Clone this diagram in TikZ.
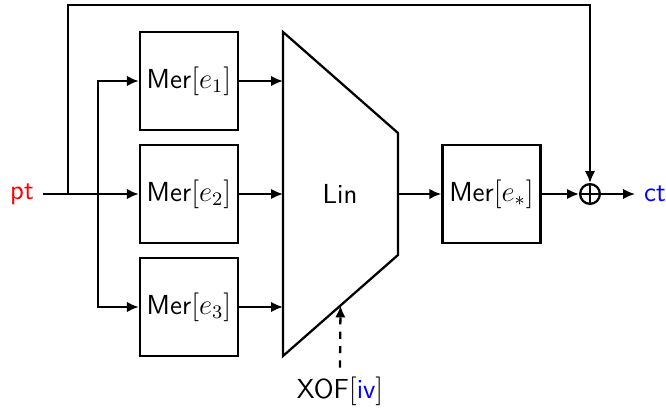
\documentclass[tikz,border=0pt]{standalone}
\usepackage{amsmath,amssymb}
\usepackage{tikz}
\usepackage{xcolor}
\usetikzlibrary{arrows.meta,calc}
\renewcommand{\familydefault}{\sfdefault}

\begin{document}
\begin{tikzpicture}[x=0.0147cm,y=-0.0147cm,line width=0.95pt,
  every node/.style={font=\sffamily\fontsize{11.5}{14}\selectfont},
  merbox/.style={draw,minimum width=1.44cm,minimum height=1.44cm,inner sep=0pt},
  arr/.style={-{Latex[length=5pt,width=4.4pt]}},
  xorsym/.style={draw,circle,minimum size=0.29cm,inner sep=0pt,
    path picture={\draw (path picture bounding box.north) -- (path picture bounding box.south)
      (path picture bounding box.west) -- (path picture bounding box.east);}}]
\useasboundingbox (0,0) rectangle (666,412);
% Mer boxes
\node[merbox] (m1) at (189,81) {Mer$[e_1]$};
\node[merbox] (m2) at (189,194) {Mer$[e_2]$};
\node[merbox] (m3) at (189,307) {Mer$[e_3]$};
\node[merbox] (ms) at (491.5,194) {Mer$[e_*]$};
% linear layer
\coordinate (tl) at (283,32);
\coordinate (tr) at (398,133);
\coordinate (br) at (398,255);
\coordinate (bl) at (283,356);
\draw (tl) -- (tr) -- (br) -- (bl) -- cycle;
\node (lin) at (340,194) {Lin};
% in and out
\node[text=red] (pt) at (22,194) {pt};
\node[text=blue] (ct) at (655,194) {ct};
\node[xorsym] (xor) at (590,194) {};
\node (xof) at (340,391) {XOF$[\text{\color{blue}iv}]$};
\coordinate (split) at (68,194);
\coordinate (fork) at (98,194);
\coordinate (top) at (590,5);
\coordinate (key) at ($(bl)!0.5!(br)$);
% connectors
\draw[arr] (pt.east) -- (m2.west);
\draw[arr] (fork) |- (m1.west);
\draw[arr] (fork) |- (m3.west);
\draw[arr] (split) |- (top) -- (xor.north);
\draw[arr] (m1.east) -- (m1.east -| tl);
\draw[arr] (m2.east) -- (m2.east -| tl);
\draw[arr] (m3.east) -- (m3.east -| tl);
\draw[arr] (ms.west -| tr) -- (ms.west);
\draw[arr] (ms.east) -- (xor.west);
\draw[arr] (xor.east) -- (ct.west);
\draw[arr,dashed] (xof.north) -- (key);
\end{tikzpicture}
\end{document}
